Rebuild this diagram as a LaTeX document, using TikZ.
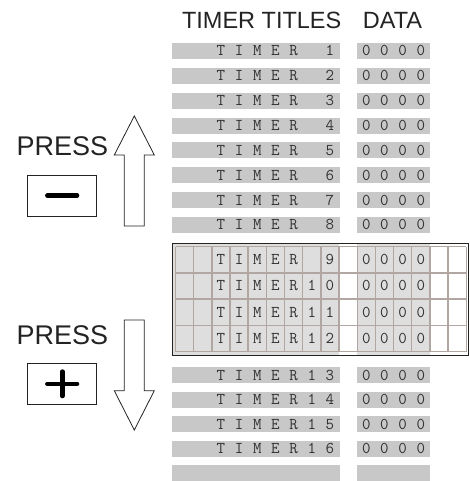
\documentclass[tikz,border=0pt]{standalone}
\usepackage{fontspec}
\setmainfont{Liberation Sans}
\definecolor{barg}{RGB}{200,200,200}
\definecolor{boxg}{RGB}{222,222,222}
\definecolor{gridc}{RGB}{178,166,162}
\definecolor{txt}{RGB}{50,50,50}
\definecolor{hd}{RGB}{35,35,35}
\newcommand\cellx[1]{175.5+18.17*(#1+0.5)}
\newcommand\trow[4]{%
  \foreach \c [count=\k from 2] in {T,I,M,E,R}{
    \node[ch] (#1c\k) at ({\cellx{\k}},{#2+5}) {\c};
  }
  \if\relax\detokenize{#3}\relax\else
    \node[ch] (#1c7) at ({\cellx{7}},{#2+5}) {#3};
  \fi
  \node[ch] (#1c8) at ({\cellx{8}},{#2+5}) {#4};
  \foreach \k in {10,...,13}{
    \node[ch] (#1d\k) at ({\cellx{\k}},{#2+5}) {0};
  }
}
\newcommand\tbars[1]{%
  \fill[barg] (172,{#1-8}) rectangle (339.5,{#1+8});
  \fill[barg] (357.3,{#1-8}) rectangle (430.2,{#1+8});
}
\begin{document}
\begin{tikzpicture}[x=1pt,y=-1pt,
  ch/.style={font=\fontsize{16.5}{16.5}\ttfamily, text=txt, inner sep=0pt, anchor=base},
  hdr/.style={font=\fontsize{23.5}{24}\selectfont, text=hd, inner sep=0pt, anchor=base},
  press/.style={font=\fontsize{27}{28}\selectfont, text=hd, inner sep=0pt, anchor=base west},
  keybox/.style={draw=hd, line width=0.9pt, minimum width=69pt, minimum height=41pt, inner sep=0pt},
  sign/.style={line width=4.6pt, line cap=round, draw=black},
  bigarrow/.style={draw=hd, line width=0.8pt, fill=white, line join=miter},
  gridline/.style={draw=gridc, line width=1.4pt}]
\useasboundingbox (0,0) rectangle (470,481);
% headers
\node[hdr] (htitles) at (261.7,28.3) {TIMER TITLES};
\node[hdr] (hdata) at (392.5,28.3) {DATA};
% upper rows
\foreach \i in {1,...,8}{
  \pgfmathsetmacro\yc{51+24.85*(\i-1)}
  \tbars{\yc}
  \trow{r\i}{\yc}{}{\i}
}
% selected box
\fill[boxg] (172.3,243.5) rectangle (339,355.8);
\fill[boxg] (357.2,243.5) rectangle (429.9,355.8);
\foreach \k in {0,...,16}{
  \draw[gridline] ({175.5+18.17*\k},246.6) -- ({175.5+18.17*\k},351.6);
}
\foreach \j in {0,...,4}{
  \draw[gridline] (175.5,{246.6+26.25*\j}) -- (466.2,{246.6+26.25*\j});
}
\draw[draw=hd, line width=1.2pt] (172.3,243.5) rectangle (468.3,355.8);
\trow{r9}{259.7}{}{9}
\trow{r10}{285.9}{1}{0}
\trow{r11}{312.2}{1}{1}
\trow{r12}{338.4}{1}{2}
% lower rows
\foreach \i [count=\j from 0] in {13,14,15,16}{
  \pgfmathsetmacro\yc{375+24.5*\j}
  \tbars{\yc}
  \pgfmathtruncatemacro\u{\i-10}
  \trow{r\i}{\yc}{1}{\u}
}
\tbars{473}
% left controls
\node[press] (pressup) at (16.5,155) {PRESS};
\node[keybox] (minus) at (62.2,195.5) {};
\draw[sign] ([xshift=-14.8pt]minus.center) -- ([xshift=14.8pt]minus.center);
\draw[bigarrow] (124.3,226) -- (124.3,155) -- (114.3,155) -- (134.3,116) -- (154.3,155) -- (144.3,155) -- (144.3,226) -- cycle;
\node[press] (pressdown) at (16.5,344.3) {PRESS};
\node[keybox] (plus) at (62.2,383.8) {};
\draw[sign] ([xshift=-14.8pt]plus.center) -- ([xshift=14.8pt]plus.center);
\draw[sign] ([yshift=-12.2pt]plus.center) -- ([yshift=12.2pt]plus.center);
\draw[bigarrow] (124.3,320) -- (124.3,390.7) -- (114.3,390.7) -- (134.3,430) -- (154.3,390.7) -- (144.3,390.7) -- (144.3,320) -- cycle;
\end{tikzpicture}
\end{document}
